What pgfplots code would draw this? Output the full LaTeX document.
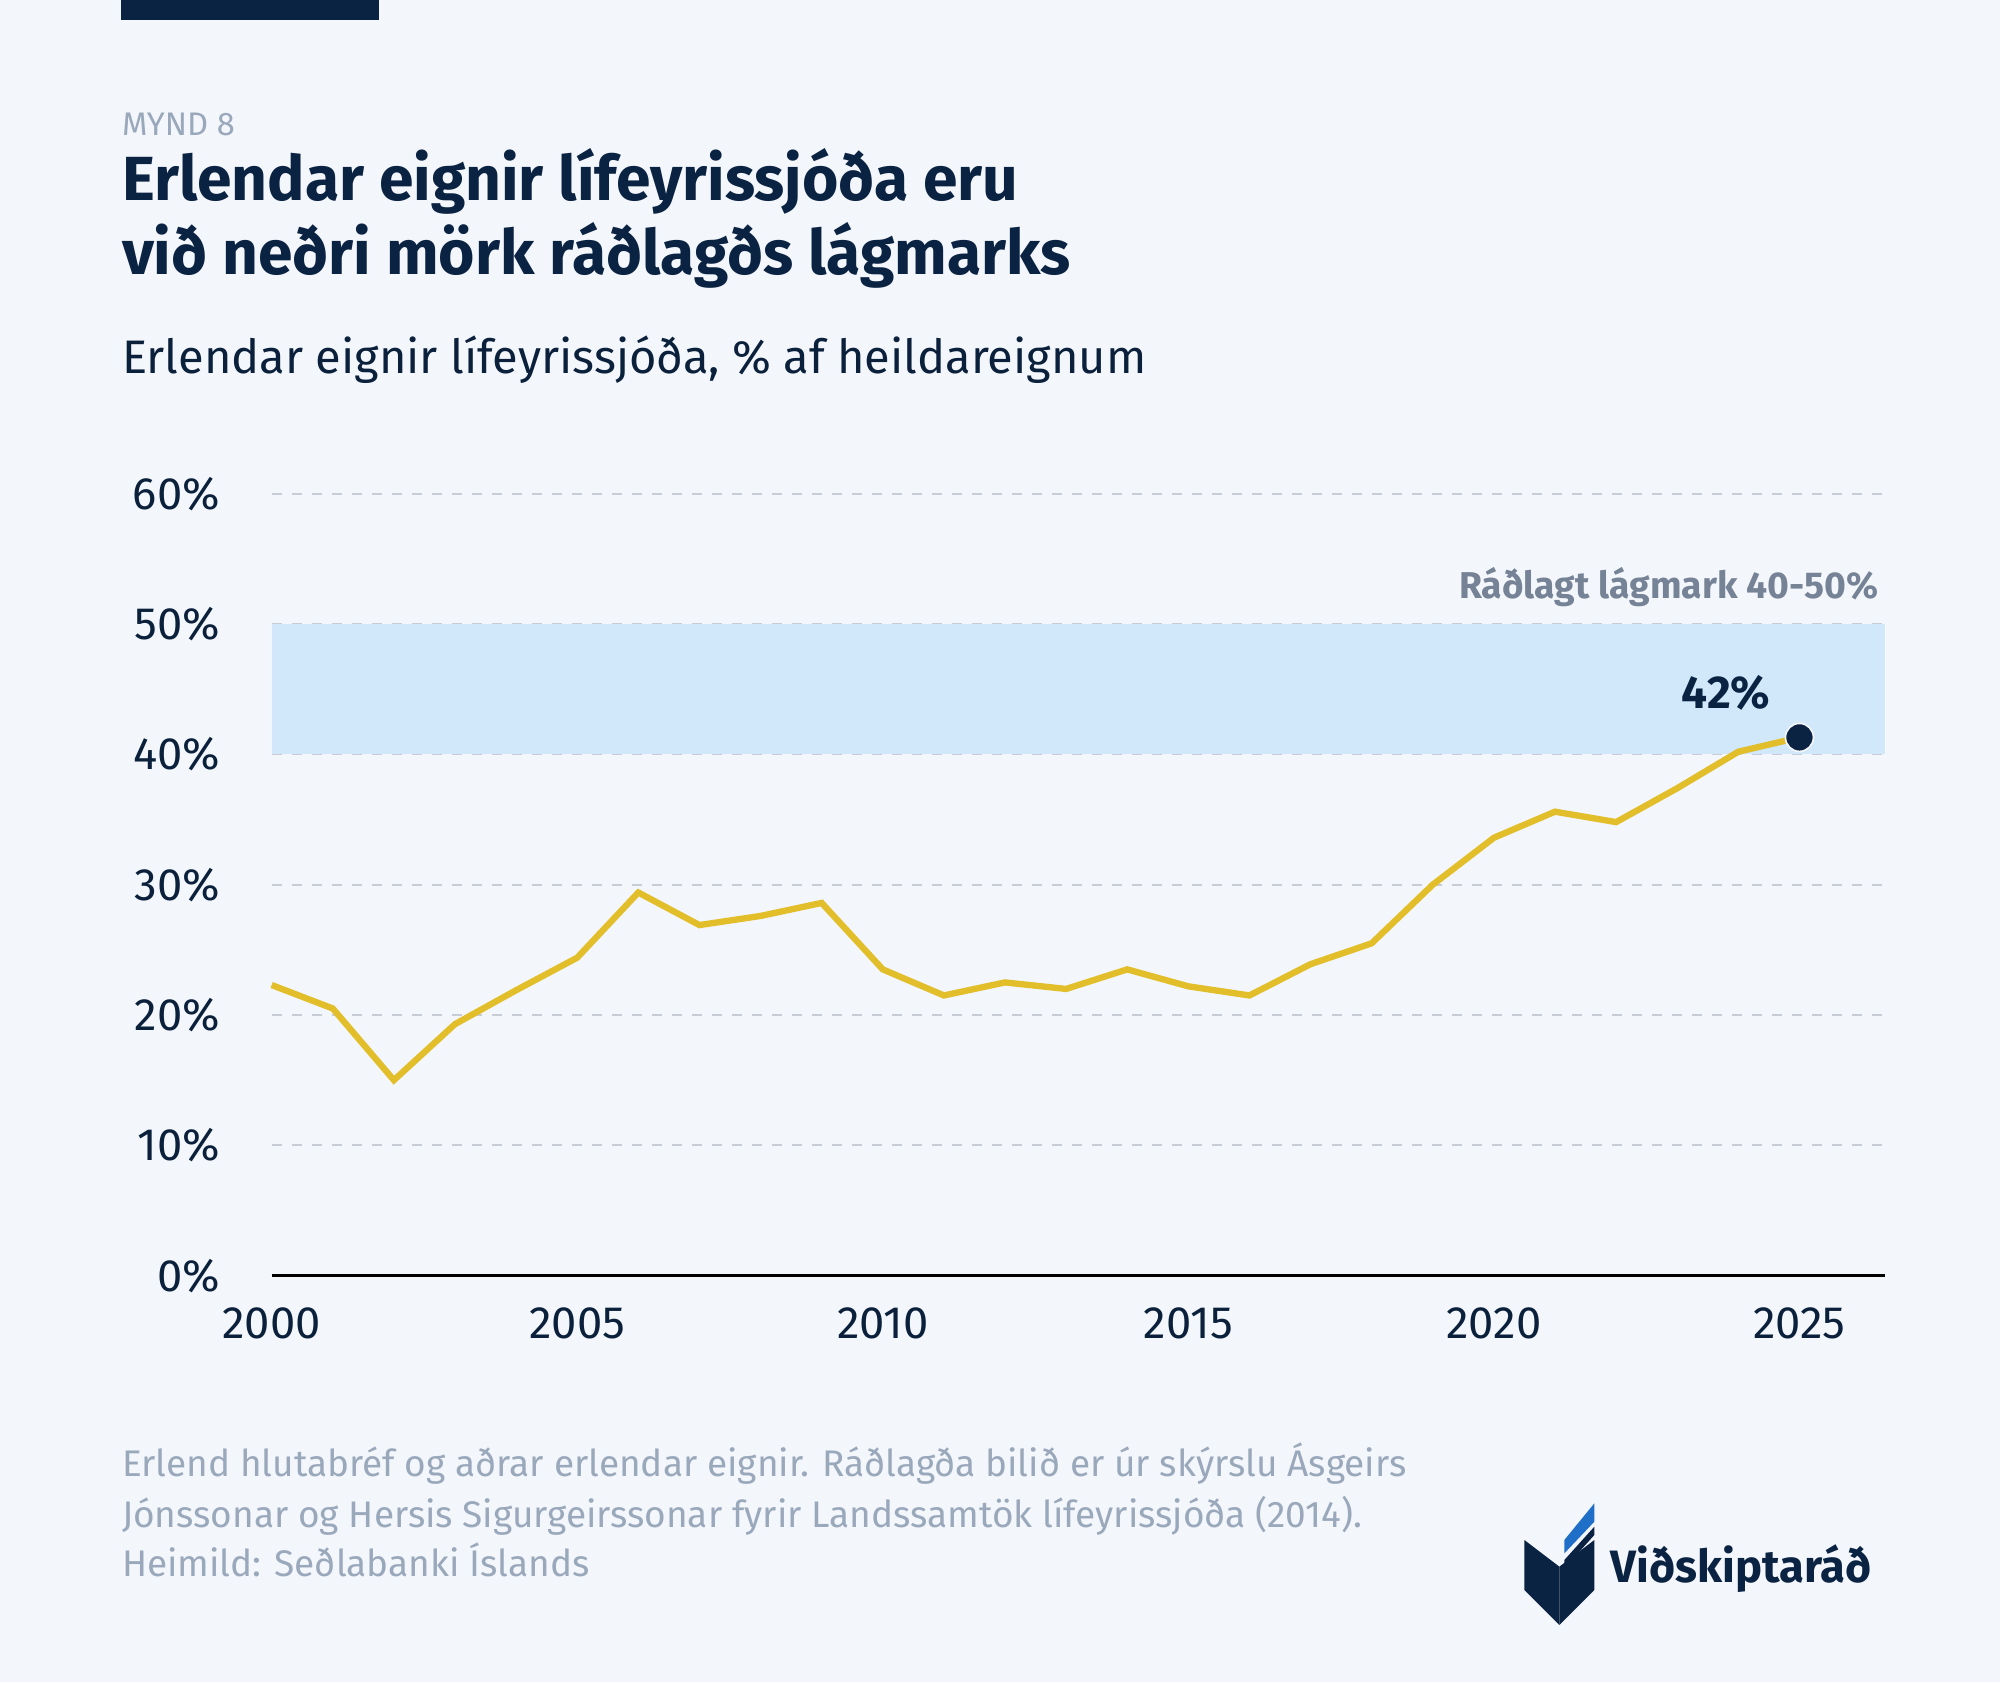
\documentclass[border=0pt]{standalone}
\usepackage{pgfplots}
\pgfplotsset{compat=1.18}
\usepackage{fontspec}
\setmainfont{Fira Sans}
\definecolor{bg}{HTML}{F3F6FA}
\definecolor{navy}{HTML}{0B2342}
\definecolor{band}{HTML}{D0E8FA}
\definecolor{line}{HTML}{E2BF2A}
\definecolor{gridc}{HTML}{C8CCD4}
\definecolor{muted}{HTML}{9AA8BC}
\definecolor{dgray}{HTML}{768396}
\definecolor{lblue}{HTML}{1F6FC8}
\begin{document}
\begin{tikzpicture}
\fill[bg] (0,0) rectangle (600pt,-504.7pt);
\fill[navy] (36.4pt,0) rectangle (113.7pt,-6.1pt);
\node[anchor=base west,inner sep=0,text=muted,font=\fontsize{9.8}{11}\selectfont] at (36.4pt,-40.6pt) {MYND 8};
\node[anchor=base west,inner sep=0,text=navy,font=\fontsize{18.7}{22}\selectfont\bfseries] at (36.4pt,-60.1pt) {Erlendar eignir lífeyrissjóða eru};
\node[anchor=base west,inner sep=0,text=navy,font=\fontsize{18.7}{22}\selectfont\bfseries] at (36.4pt,-82.3pt) {við neðri mörk ráðlagðs lágmarks};
\node[anchor=base west,inner sep=0,text=navy!90!black,font=\fontsize{14.1}{16}\selectfont] at (36.4pt,-112.1pt) {Erlendar eignir lífeyrissjóða, \% af heildareignum};
\begin{axis}[at={(81.5pt,-382.7pt)},anchor=origin,scale only axis,
 width=484pt,height=234.6pt,xmin=2000,xmax=2026.4,ymin=0,ymax=60,
 axis line style={draw=none},axis x line*=bottom,
 ytick={0,10,...,60},yticklabel={\pgfmathprintnumber{\tick}\%},
 xtick={2000,2005,...,2025},
 x tick label style={/pgf/number format/1000 sep={}},
 /pgf/number format/assume math mode=true,
 tick style={draw=none},
 ticklabel style={font=\fontsize{13.6}{15}\selectfont,text=navy!90!black},
 yticklabel style={xshift=-12pt},
 xticklabel style={yshift=-6pt},
 ymajorgrids, grid style={gridc,dashed,line width=0.6pt},
 clip=false]
\fill[band] (axis cs:2000,40) rectangle (axis cs:2026.4,50);
\draw[black,line width=0.9pt] (axis cs:2000,0) -- (axis cs:2026.4,0);
\node[anchor=south east,inner sep=0,text=dgray,font=\fontsize{11.2}{12}\selectfont\bfseries] at (axis cs:2026.3,51.3) {Ráðlagt lágmark 40-50\%};
\addplot[line,line width=1.9pt,mark=none] coordinates {
(2000,22.3)(2001,20.5)(2002,15.0)(2003,19.3)(2004,21.9)(2005,24.4)(2006,29.4)(2007,26.9)(2008,27.6)(2009,28.6)(2010,23.5)(2011,21.5)(2012,22.5)(2013,22.0)(2014,23.5)(2015,22.2)(2016,21.5)(2017,23.9)(2018,25.5)(2019,30.0)(2020,33.6)(2021,35.6)(2022,34.8)(2023,37.4)(2024,40.2)(2025,41.3)};
\addplot[only marks,mark=*,mark size=4.2pt,navy,mark options={draw=bg,line width=0.5pt}] coordinates {(2025,41.3)};
\node[text=navy,font=\fontsize{13.8}{15}\selectfont\bfseries] at (axis cs:2023.8,44.7) {42\%};
\end{axis}
\begin{scope}[every node/.style={anchor=base west,inner sep=0,text=muted,font=\fontsize{11.1}{13}\selectfont}]
\node at (36.4pt,-442.8pt) {Erlend hlutabréf og aðrar erlendar eignir. Ráðlagða bilið er úr skýrslu Ásgeirs};
\node at (36.4pt,-458.1pt) {Jónssonar og Hersis Sigurgeirssonar fyrir Landssamtök lífeyrissjóða (2014).};
\node at (36.4pt,-473.0pt) {Heimild: Seðlabanki Íslands};
\end{scope}
% logo
\fill[navy] (457.3pt,-462pt) -- (467.8pt,-470pt) -- (467.8pt,-487.5pt) -- (457.3pt,-477pt) -- cycle;
\fill[navy] (478.3pt,-462pt) -- (467.8pt,-470pt) -- (467.8pt,-487.5pt) -- (478.3pt,-477pt) -- cycle;
\fill[navy] (469.3pt,-468pt) -- (478.3pt,-458pt) -- (478.3pt,-460.5pt) -- (469.3pt,-470.5pt) -- cycle;
\fill[lblue] (469.3pt,-462pt) -- (478.3pt,-451pt) -- (478.3pt,-456.5pt) -- (469.3pt,-466pt) -- cycle;
\node[anchor=base west,inner sep=0,text=navy,font=\fontsize{13.6}{16}\selectfont\bfseries] at (483pt,-474.6pt) {Viðskiptaráð};
\end{tikzpicture}
\end{document}
